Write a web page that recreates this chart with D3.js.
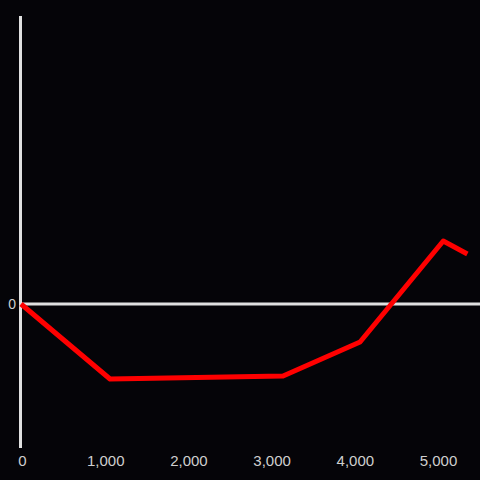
<!DOCTYPE html>
<html>
<head>
<meta charset="utf-8">
<script src="https://cdn.jsdelivr.net/npm/d3@7"></script>
<style>
  html, body { margin: 0; padding: 0; background: #050408; }
  svg { display: block; }
</style>
</head>
<body>
<svg id="chart" width="480" height="480"></svg>
<script>
// values
var xValues = [0, 1070, 3150, 4075, 5075, 5365]
var yValues = [0, -0.75, -0.72, -0.38, 0.63, 0.50]
var xTicks = [0, 1000, 2000, 3000, 4000, 5000]
var yTicks = [0]

var svg = d3.select("#chart"),
  width = +svg.attr("width"),
  height = +svg.attr("height")

svg.append("rect")
  .attr("width", width)
  .attr("height", height)
  .attr("fill", "#050408")

var x = d3.scaleLinear()
  .domain([0, 5000])
  .range([21, 437])

var y = d3.scaleLinear()
  .domain([-1.44, 2.88])
  .range([448, 16])

var axisColor = "#e0e0e0"

// vertical axis line
svg.append("line")
  .attr("x1", 20.5).attr("x2", 20.5)
  .attr("y1", y.range()[1]).attr("y2", y.range()[0])
  .attr("stroke", axisColor)
  .attr("stroke-width", 3)

// zero line
svg.append("line")
  .attr("x1", 20).attr("x2", width)
  .attr("y1", y(0)).attr("y2", y(0))
  .attr("stroke", axisColor)
  .attr("stroke-width", 3)

// x tick labels
var xAxis = d3.axisBottom(x)
  .tickValues(xTicks)
  .tickFormat(d3.format(","))
  .tickSize(0)
  .tickPadding(0)

var gx = svg.append("g")
  .attr("transform", "translate(1,466)")
  .call(xAxis)
gx.select(".domain").remove()
gx.selectAll("text")
  .attr("dy", 0)
  .attr("fill", "#cfcfcf")
  .style("font-family", "'Liberation Sans', Arial, sans-serif")
  .style("font-size", "15px")

// y tick labels
var yAxis = d3.axisLeft(y)
  .tickValues(yTicks)
  .tickFormat(d3.format("d"))
  .tickSize(0)
  .tickPadding(0)

var gy = svg.append("g")
  .attr("transform", "translate(16,0)")
  .call(yAxis)
gy.select(".domain").remove()
gy.selectAll("text")
  .attr("fill", "#cfcfcf")
  .style("font-family", "'Liberation Sans', Arial, sans-serif")
  .style("font-size", "14px")

// the red line
var data = xValues.map(function (d, i) { return { x: d, y: yValues[i] } })

var line = d3.line()
  .x(function (d) { return x(d.x) })
  .y(function (d) { return y(d.y) })

svg.append("path")
  .datum(data)
  .attr("d", line)
  .attr("fill", "none")
  .attr("stroke", "#ff0000")
  .attr("stroke-width", 5)
  .attr("stroke-linejoin", "round")
</script>
</body>
</html>
